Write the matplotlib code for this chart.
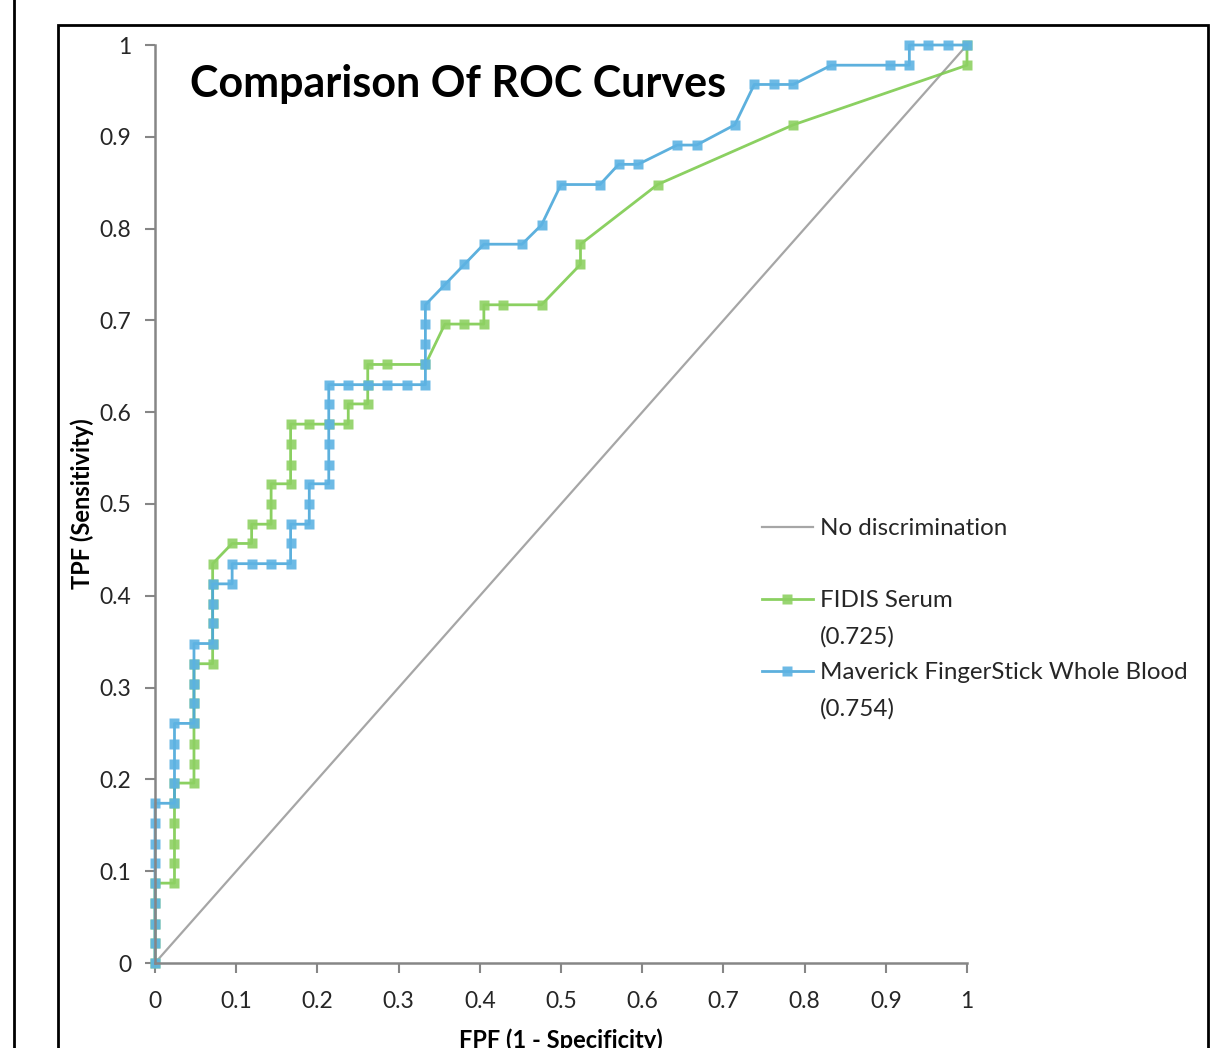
import matplotlib.pyplot as plt
from matplotlib.lines import Line2D
from matplotlib.patches import Rectangle

plt.rcParams['font.family'] = ['Lato', 'DejaVu Sans']

# ROC-punkter lest av bildet
fidis_fpf = [0, 0, 0, 0, 0, 0.024, 0.024, 0.024, 0.024, 0.024, 0.024,
             0.048, 0.048, 0.048, 0.048, 0.048, 0.048, 0.048,
             0.071, 0.071, 0.071, 0.071, 0.071, 0.071,
             0.095, 0.119, 0.119, 0.143, 0.143, 0.143,
             0.167, 0.167, 0.167, 0.167, 0.190, 0.214, 0.238, 0.238,
             0.262, 0.262, 0.262, 0.286, 0.333, 0.357, 0.381, 0.405, 0.405,
             0.429, 0.476, 0.524, 0.524, 0.619, 0.786, 1.0, 1.0]
fidis_tpf = [0, 0.022, 0.043, 0.065, 0.087, 0.087, 0.109, 0.130, 0.152, 0.174, 0.196,
             0.196, 0.217, 0.239, 0.261, 0.283, 0.304, 0.326,
             0.326, 0.348, 0.370, 0.391, 0.413, 0.435,
             0.457, 0.457, 0.478, 0.478, 0.500, 0.522,
             0.522, 0.543, 0.565, 0.587, 0.587, 0.587, 0.587, 0.609,
             0.609, 0.630, 0.652, 0.652, 0.652, 0.696, 0.696, 0.696, 0.717,
             0.717, 0.717, 0.761, 0.783, 0.848, 0.913, 0.978, 1.0]

maverick_fpf = [0, 0, 0, 0, 0, 0, 0, 0, 0,
                0.024, 0.024, 0.024, 0.024, 0.024,
                0.048, 0.048, 0.048, 0.048, 0.048,
                0.071, 0.071, 0.071, 0.071, 0.095, 0.095,
                0.119, 0.143, 0.167, 0.167, 0.167,
                0.190, 0.190, 0.190, 0.214, 0.214, 0.214, 0.214, 0.214, 0.214,
                0.238, 0.262, 0.286, 0.310, 0.333, 0.333, 0.333, 0.333, 0.333,
                0.357, 0.381, 0.405, 0.452, 0.476, 0.500, 0.548, 0.571, 0.595,
                0.643, 0.667, 0.714, 0.738, 0.762, 0.786, 0.833, 0.905, 0.929,
                0.929, 0.952, 0.976, 1.0]
maverick_tpf = [0, 0.022, 0.043, 0.065, 0.087, 0.109, 0.130, 0.152, 0.174,
                0.174, 0.196, 0.217, 0.239, 0.261,
                0.261, 0.283, 0.304, 0.326, 0.348,
                0.348, 0.370, 0.391, 0.413, 0.413, 0.435,
                0.435, 0.435, 0.435, 0.457, 0.478,
                0.478, 0.500, 0.522, 0.522, 0.543, 0.565, 0.587, 0.609, 0.630,
                0.630, 0.630, 0.630, 0.630, 0.630, 0.652, 0.674, 0.696, 0.717,
                0.739, 0.761, 0.783, 0.783, 0.804, 0.848, 0.848, 0.870, 0.870,
                0.891, 0.891, 0.913, 0.957, 0.957, 0.957, 0.978, 0.978, 0.978,
                1.0, 1.0, 1.0, 1.0]

diag = [0, 1]
ticks = [0, 0.1, 0.2, 0.3, 0.4, 0.5, 0.6, 0.7, 0.8, 0.9, 1]
tick_labels = ["0", "0.1", "0.2", "0.3", "0.4", "0.5", "0.6", "0.7", "0.8", "0.9", "1"]

W, H = 1215, 1048
fig = plt.figure(figsize=(W / 100, H / 100), dpi=100)
ax = fig.add_axes([155 / W, 1 - 963 / H, 812 / W, 918 / H])

# Rammer rundt diagrammet
fig.add_artist(Line2D([14 / W, 14 / W], [0, 1], transform=fig.transFigure, color='black', lw=2))
fig.add_artist(Rectangle((57.5 / W, -0.05), (1208 - 57.5) / W, 1.05 - 24.5 / H,
                         transform=fig.transFigure, fill=False, edgecolor='black', lw=2))

ax.plot(diag, diag, color='#A6A6A6', lw=1.6, label="No discrimination")
ax.plot(fidis_fpf, fidis_tpf, color='#7ECB50', lw=2, marker='s', markersize=7,
        markerfacecolor='#8ED163', markeredgecolor='none', alpha=0.9, clip_on=False,
        label="FIDIS Serum")
ax.plot(maverick_fpf, maverick_tpf, color='#4BA8DA', lw=2, marker='s', markersize=7,
        markerfacecolor='#5DB3E3', markeredgecolor='none', alpha=0.9, clip_on=False,
        label="Maverick FingerStick Whole Blood")

ax.set_xlim(0, 1)
ax.set_ylim(0, 1)
ax.set_xticks(ticks, tick_labels)
ax.set_yticks(ticks, tick_labels)
ax.tick_params(direction='out', length=7, width=1.5, color='#868686',
               labelsize=16.5, labelcolor='#262626')
ax.tick_params(axis='y', pad=10)
ax.tick_params(axis='x', pad=13)
for s in ['top', 'right']:
    ax.spines[s].set_visible(False)
for s in ['left', 'bottom']:
    ax.spines[s].set_color('#868686')
    ax.spines[s].set_linewidth(1.8)

ax.set_xlabel("FPF (1 - Specificity)", fontsize=17, fontweight='bold', labelpad=12)
ax.set_ylabel("TPF (Sensitivity)", fontsize=17, fontweight='bold', labelpad=4)

ax.text(35 / 812, 1 - (84 - 45) / 918, "Comparison Of ROC Curves",
        transform=ax.transAxes, fontsize=31, fontweight='bold', va='center', ha='left')

# Forklaring
h = ax.get_lines()
blank = Line2D([], [], color='none')
fig.legend([h[0], blank, h[1], blank, h[2], blank],
           ["No discrimination", "", "FIDIS Serum", "(0.725)",
            "Maverick FingerStick Whole Blood", "(0.754)"],
           loc='upper left', bbox_to_anchor=(762 / W, 1 - 518 / H),
           frameon=False, fontsize=17.4, handlelength=2.1, handletextpad=0.3,
           borderpad=0, borderaxespad=0, labelspacing=0.62, numpoints=1,
           labelcolor='#262626')

fig.savefig("out.png", dpi=100)
